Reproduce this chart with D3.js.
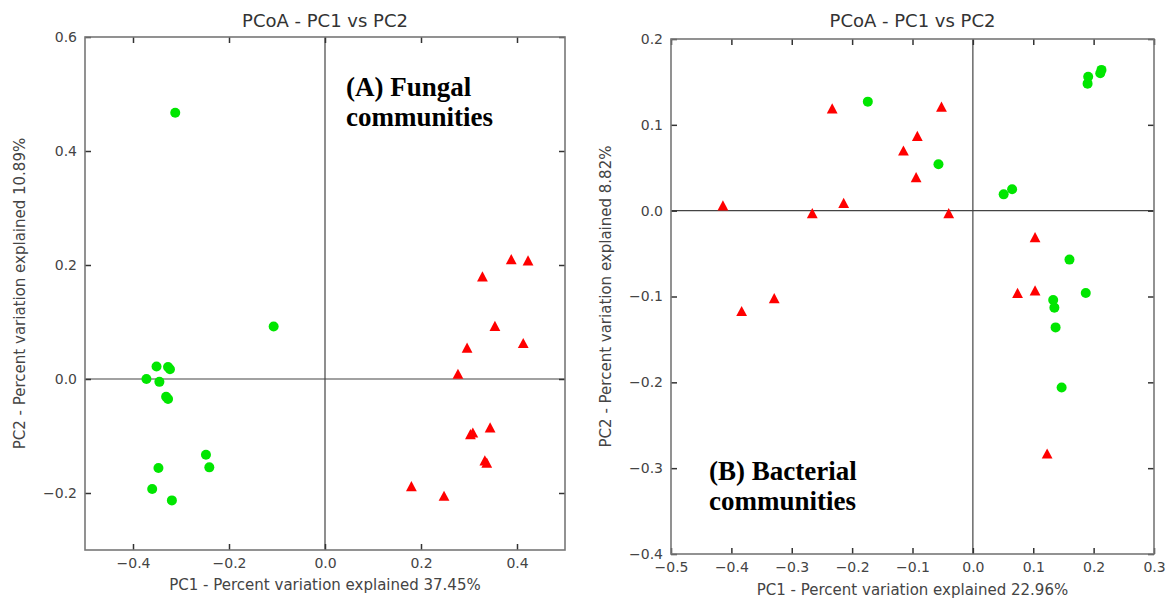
<!DOCTYPE html>
<html>
<head>
<meta charset="utf-8">
<script src="https://cdn.jsdelivr.net/npm/d3@7"></script>
<style>
  body { margin: 0; background: #fff; }
  text { font-family: "DejaVu Sans", sans-serif; }
</style>
</head>
<body>
<svg width="1166" height="601"></svg>
<script>
// ---- data ----
// (A) fungal
var fungalCirclePC1 = [-0.312, -0.107, -0.351, -0.327, -0.323, -0.372, -0.345, -0.331, -0.327, -0.248, -0.241, -0.347, -0.360, -0.319];
var fungalCirclePC2 = [0.467, 0.092, 0.022, 0.021, 0.017, 0.000, -0.005, -0.031, -0.035, -0.133, -0.155, -0.156, -0.193, -0.213];
var fungalTrianglePC1 = [0.328, 0.388, 0.423, 0.354, 0.413, 0.296, 0.277, 0.344, 0.303, 0.308, 0.333, 0.337, 0.180, 0.248];
var fungalTrianglePC2 = [0.180, 0.210, 0.208, 0.093, 0.063, 0.055, 0.009, -0.085, -0.097, -0.094, -0.143, -0.147, -0.188, -0.205];

// (B) bacterial
var bacterialCirclePC1 = [-0.174, -0.057, 0.051, 0.065, 0.191, 0.190, 0.211, 0.213, 0.160, 0.187, 0.133, 0.135, 0.137, 0.147];
var bacterialCirclePC2 = [0.127, 0.054, 0.019, 0.025, 0.156, 0.148, 0.160, 0.164, -0.057, -0.096, -0.104, -0.113, -0.136, -0.206];
var bacterialTrianglePC1 = [-0.233, -0.052, -0.092, -0.115, -0.094, -0.414, -0.266, -0.214, -0.040, 0.103, 0.074, 0.103, -0.329, -0.383, 0.123];
var bacterialTrianglePC2 = [0.119, 0.121, 0.087, 0.070, 0.039, 0.006, -0.003, 0.009, -0.003, -0.031, -0.096, -0.093, -0.102, -0.117, -0.283];

// ticks
var fungalXTicks = [-0.4, -0.2, 0.0, 0.2, 0.4];
var fungalYTicks = [-0.2, 0.0, 0.2, 0.4, 0.6];
var bacterialXTicks = [-0.5, -0.4, -0.3, -0.2, -0.1, 0.0, 0.1, 0.2, 0.3];
var bacterialYTicks = [-0.4, -0.3, -0.2, -0.1, 0.0, 0.1, 0.2];

var titleText = "PCoA - PC1 vs PC2";
var fungalXLabel = "PC1 - Percent variation explained 37.45%";
var fungalYLabel = "PC2 - Percent variation explained 10.89%";
var bacterialXLabel = "PC1 - Percent variation explained 22.96%";
var bacterialYLabel = "PC2 - Percent variation explained 8.82%";
var fungalNote = ["(A) Fungal", "communities"];
var bacterialNote = ["(B) Bacterial", "communities"];

var svg = d3.select("svg");
var fmt = d3.format(".1f");

function zip(a, b) { return a.map(function(v, i) { return [v, b[i]]; }); }

function drawPanel(p) {
  var x = d3.scaleLinear().domain(p.xDomain).range([p.left, p.right]);
  var y = d3.scaleLinear().domain(p.yDomain).range([p.bottom, p.top]);
  var g = svg.append("g");

  // zero lines
  g.append("line")
    .attr("x1", p.left).attr("x2", p.right)
    .attr("y1", y(0)).attr("y2", y(0))
    .attr("stroke", "#444").attr("stroke-width", 1.2);
  g.append("line")
    .attr("x1", x(0)).attr("x2", x(0))
    .attr("y1", p.top).attr("y2", p.bottom)
    .attr("stroke", "#444").attr("stroke-width", 1.2);

  // axes, ticks pointing inwards
  var ax = g.append("g").attr("transform", "translate(0," + p.bottom + ")")
    .call(d3.axisBottom(x).tickValues(p.xTicks).tickFormat(fmt).tickSize(-6).tickPadding(8));
  var ay = g.append("g").attr("transform", "translate(" + p.left + ",0)")
    .call(d3.axisLeft(y).tickValues(p.yTicks).tickFormat(fmt).tickSize(-6).tickPadding(8));
  var at = g.append("g").attr("transform", "translate(0," + p.top + ")")
    .call(d3.axisTop(x).tickValues(p.xTicks).tickFormat("").tickSize(-6));
  var ar = g.append("g").attr("transform", "translate(" + p.right + ",0)")
    .call(d3.axisRight(y).tickValues(p.yTicks).tickFormat("").tickSize(-6));
  [ax, ay, at, ar].forEach(function(a) {
    a.select(".domain").remove();
    a.selectAll(".tick line").attr("stroke", "#333").attr("stroke-width", 1.5);
    a.selectAll(".tick text")
      .attr("fill", "#444")
      .style("font-family", "DejaVu Sans")
      .style("font-size", "14px");
  });

  // frame
  g.append("rect")
    .attr("x", p.left).attr("y", p.top)
    .attr("width", p.right - p.left).attr("height", p.bottom - p.top)
    .attr("fill", "none").attr("stroke", "#777").attr("stroke-width", 1.6);

  // markers
  g.selectAll(".circ").data(zip(p.circX, p.circY)).enter()
    .append("circle")
    .attr("cx", function(d) { return x(d[0]); })
    .attr("cy", function(d) { return y(d[1]); })
    .attr("r", 5)
    .attr("fill", "#00e600");
  g.selectAll(".tri").data(zip(p.triX, p.triY)).enter()
    .append("path")
    .attr("d", "M0,-5.2L5.4,5L-5.4,5Z")
    .attr("transform", function(d) { return "translate(" + x(d[0]) + "," + y(d[1]) + ")"; })
    .attr("fill", "#f00");

  // title and axis labels
  var mid = (p.left + p.right) / 2;
  g.append("text")
    .attr("x", mid).attr("y", 27)
    .attr("text-anchor", "middle")
    .attr("fill", "#333").style("font-size", "18px")
    .text(titleText);
  g.append("text")
    .attr("x", mid).attr("y", p.xLabelY)
    .attr("text-anchor", "middle")
    .attr("fill", "#444").style("font-size", "15px")
    .text(p.xLabel);
  g.append("text")
    .attr("transform", "translate(" + p.yLabelX + "," + (p.top + p.bottom) / 2 + ") rotate(-90)")
    .attr("text-anchor", "middle")
    .attr("fill", "#444").style("font-size", "15px")
    .text(p.yLabel);

  // panel note
  g.selectAll(".note").data(p.note).enter()
    .append("text")
    .attr("x", p.noteX)
    .attr("y", function(d, i) { return p.noteY + i * 30; })
    .attr("fill", "#000")
    .style("font-family", "Liberation Serif, serif")
    .style("font-weight", "bold")
    .style("font-size", "27px")
    .text(function(d) { return d; });
}

drawPanel({
  xDomain: [-0.5, 0.5], yDomain: [-0.3, 0.6],
  left: 85, right: 565, top: 37, bottom: 550,
  xTicks: fungalXTicks, yTicks: fungalYTicks,
  circX: fungalCirclePC1, circY: fungalCirclePC2,
  triX: fungalTrianglePC1, triY: fungalTrianglePC2,
  xLabel: fungalXLabel, yLabel: fungalYLabel,
  xLabelY: 590, yLabelX: 25,
  note: fungalNote, noteX: 346, noteY: 96
});

drawPanel({
  xDomain: [-0.5, 0.3], yDomain: [-0.4, 0.2],
  left: 671, right: 1154, top: 39, bottom: 554,
  xTicks: bacterialXTicks, yTicks: bacterialYTicks,
  circX: bacterialCirclePC1, circY: bacterialCirclePC2,
  triX: bacterialTrianglePC1, triY: bacterialTrianglePC2,
  xLabel: bacterialXLabel, yLabel: bacterialYLabel,
  xLabelY: 595, yLabelX: 611,
  note: bacterialNote, noteX: 709, noteY: 480
});
</script>
</body>
</html>
